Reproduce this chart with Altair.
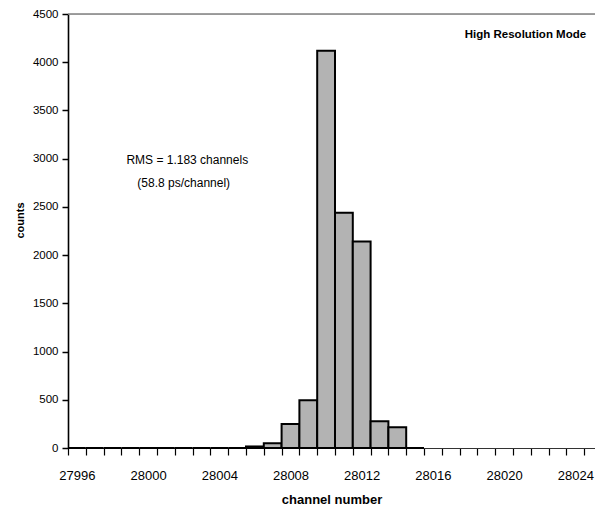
import altair as alt
import pandas as pd

# ---- data ----
channels = list(range(27996, 28016))
counts = [0, 0, 0, 0, 0, 0, 0, 0, 0, 0,
          16, 48, 250, 495, 4120, 2440, 2140, 277, 214, 0]
x_tick_labels = [27996, 28000, 28004, 28008, 28012, 28016, 28020, 28024]
y_tick_values = [0, 500, 1000, 1500, 2000, 2500, 3000, 3500, 4000, 4500]
rms_lines = ["RMS = 1.183 channels", "(58.8 ps/channel)"]
mode_label = "High Resolution Mode"

FONT = "Liberation Sans"

df = pd.DataFrame({"channel": channels, "count": counts})

PLOT_W = 527
x_lo = 27995.5
x_hi = x_lo + PLOT_W / 17.8
xscale = alt.Scale(domain=[x_lo, x_hi], nice=False, zero=False)
yscale = alt.Scale(domain=[0, 4500], nice=False)

# category boundaries (tick marks) plus label positions (category centres)
boundaries = [x_lo + k for k in range(0, 30)]
x_values = boundaries + x_tick_labels

xaxis = alt.Axis(
    values=x_values,
    tickCount=200,
    labelExpr="datum.value % 4 == 0 ? format(datum.value, 'd') : ''",
    tickColor={"condition": {"test": "datum.value % 1 == 0", "value": "transparent"},
               "value": "black"},
    tickSize=7, tickWidth=1.2,
    labelOverlap=False, labelFlush=False, labelBound=False,
    labelFont=FONT, labelFontSize=13, labelColor="black",
    labelBaseline="alphabetic", labelPadding=24,
    domainColor="#333333", domainWidth=1.2,
    grid=False,
    title="channel number", titleFont=FONT, titleFontSize=13, titleFontWeight="bold",
    titleColor="black", titleY=55, titleBaseline="alphabetic",
)
yaxis = alt.Axis(
    values=y_tick_values,
    tickCount=50,
    format="d",
    tickSize=6, tickWidth=1.5, tickColor="black",
    labelFont=FONT, labelFontSize=11.5, labelColor="black", labelPadding=4,
    domainColor="black", domainWidth=1.6,
    grid=False,
    title="counts", titleFont=FONT, titleFontSize=11, titleFontWeight="bold",
    titleColor="black", titleX=-48, titleY=206, titleBaseline="middle",
)

top_line = alt.Chart(pd.DataFrame({"v": [4500]})).mark_rule(
    color="#808080", strokeWidth=1.5
).encode(y=alt.Y("v:Q", scale=yscale))

bars = alt.Chart(df).transform_calculate(
    lo="datum.channel - 0.5", hi="datum.channel + 0.5"
).mark_bar(fill="#b3b3b3", stroke="black", strokeWidth=2).encode(
    x=alt.X("lo:Q", scale=xscale, axis=xaxis),
    x2="hi:Q",
    y=alt.Y("count:Q", scale=yscale, axis=yaxis),
    y2=alt.datum(0),
)

rms1 = alt.Chart().mark_text(
    text=rms_lines[0], font=FONT, fontSize=12, align="center", baseline="middle", color="black"
).encode(x=alt.datum(28002.2), y=alt.datum(2984))
rms2 = alt.Chart().mark_text(
    text=rms_lines[1], font=FONT, fontSize=12, align="center", baseline="middle", color="black"
).encode(x=alt.datum(28002.0), y=alt.datum(2749))
mode = alt.Chart().mark_text(
    text=mode_label, font=FONT, fontSize=11.5, fontWeight="bold", align="left",
    baseline="middle", color="black"
).encode(x=alt.datum(28017.79), y=alt.datum(4282))

chart = alt.layer(top_line, bars, rms1, rms2, mode).properties(
    width=PLOT_W, height=434,
    autosize="none",
    padding={"left": 60, "top": 6, "right": 0, "bottom": 58},
).configure_view(stroke=None).configure(background="white")

chart.save("out.html", embed_options={"renderer": "svg", "actions": False})
